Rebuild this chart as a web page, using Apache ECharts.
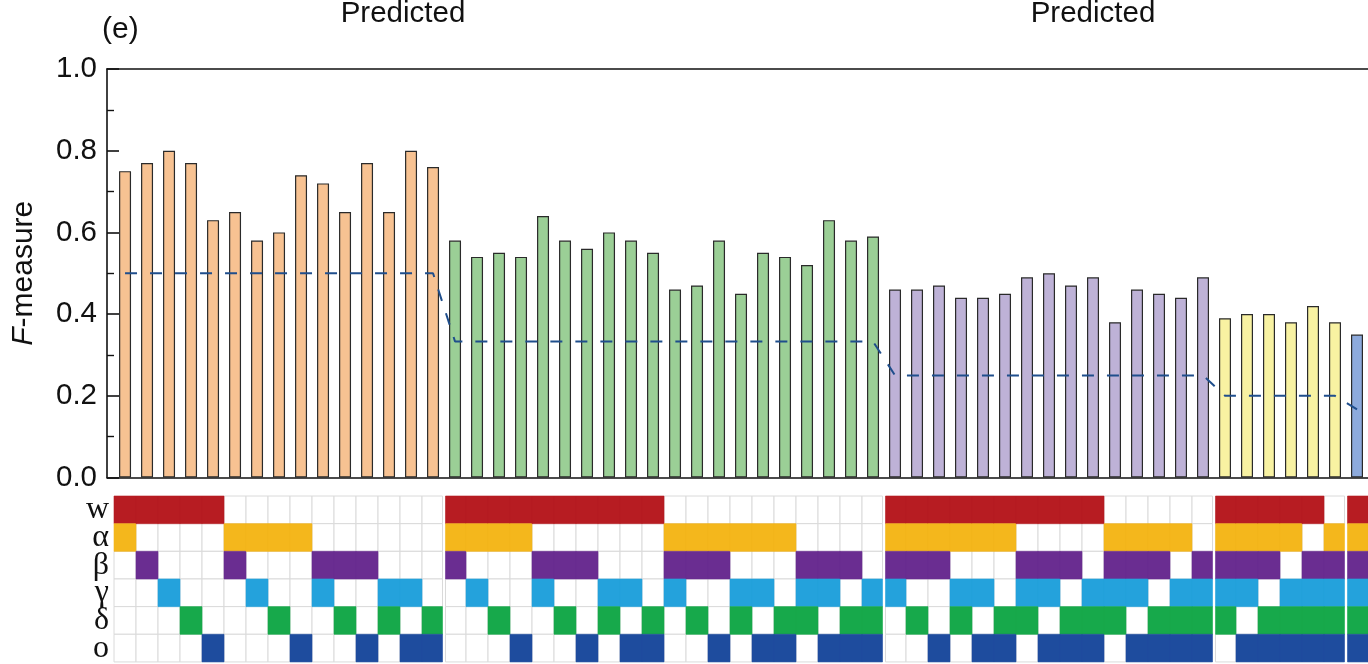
<!DOCTYPE html>
<html>
<head>
<meta charset="utf-8">
<title>F-measure by factor combination</title>
<script src="https://cdn.jsdelivr.net/npm/echarts@6/dist/echarts.min.js"></script>
<style>
  html, body { margin: 0; padding: 0; background: #ffffff; }
  #chart { width: 1368px; height: 664px; }
</style>
</head>
<body>
<div id="chart"></div>
<script>
// Factors shown as rows of the membership matrix (top to bottom)
const factors = ['w', 'α', 'β', 'γ', 'δ', 'o'];

// Factor combinations, one group per combination size
const pairs = ['wα', 'wβ', 'wγ', 'wδ', 'wo', 'αβ', 'αγ', 'αδ', 'αo', 'βγ', 'βδ', 'βo', 'γδ', 'γo', 'δo'];
const triples = ['wαβ', 'wαγ', 'wαδ', 'wαo', 'wβγ', 'wβδ', 'wβo', 'wγδ', 'wγo', 'wδo',
                 'αβγ', 'αβδ', 'αβo', 'αγδ', 'αγo', 'αδo', 'βγδ', 'βγo', 'βδo', 'γδo'];
const quads = ['wαβγ', 'wαβδ', 'wαβo', 'wαγδ', 'wαγo', 'wαδo', 'wβγδ', 'wβγo', 'wβδo', 'wγδo',
               'αβγδ', 'αβγo', 'αβδo', 'αγδo', 'βγδo'];
const quints = ['wαβγδ', 'wαβγo', 'wαβδo', 'wαγδo', 'wβγδo', 'αβγδo'];
const sextet = ['wαβγδo'];

// F-measure of each combination
const fPairs = [0.75, 0.77, 0.80, 0.77, 0.63, 0.65, 0.58, 0.60, 0.74, 0.72, 0.65, 0.77, 0.65, 0.80, 0.76];
const fTriples = [0.58, 0.54, 0.55, 0.54, 0.64, 0.58, 0.56, 0.60, 0.58, 0.55,
                  0.46, 0.47, 0.58, 0.45, 0.55, 0.54, 0.52, 0.63, 0.58, 0.59];
const fQuads = [0.46, 0.46, 0.47, 0.44, 0.44, 0.45, 0.49, 0.50, 0.47, 0.49, 0.38, 0.46, 0.45, 0.44, 0.49];
const fQuints = [0.39, 0.40, 0.40, 0.38, 0.42, 0.38];
const fSextet = [0.35];

// Chance level for each group (dashed line)
const chanceLevel = [0.5, 0.333, 0.25, 0.2, 0.167];

// Y axis ticks
const yTicks = [0.0, 0.2, 0.4, 0.6, 0.8, 1.0];

// Styling
const groupBarColors = ['#F7C292', '#9BCF96', '#BEB2D7', '#F8F2A2', '#8DAADC'];
const factorColors = ['#B71C22', '#F4B71C', '#6A2D91', '#24A2DC', '#17A94B', '#1E4C9E'];
const sansFont = '"Liberation Sans", Arial, sans-serif';
const serifFont = '"Liberation Serif", "Times New Roman", serif';
const textColor = '#111111';
const groupGapPx = 3;

const groups = [
  { combos: pairs, values: fPairs },
  { combos: triples, values: fTriples },
  { combos: quads, values: fQuads },
  { combos: quints, values: fQuints },
  { combos: sextet, values: fSextet }
];

// Flatten groups into columns
const columns = [];
groups.forEach((g, gi) => {
  g.combos.forEach((c, k) => {
    columns.push({
      combo: c,
      value: g.values[k],
      group: gi,
      first: k === 0,
      last: k === g.combos.length - 1
    });
  });
});
const nCols = columns.length;

const barData = columns.map((c, i) => ({
  value: [i, c.value],
  itemStyle: { color: groupBarColors[c.group] }
}));
const chanceData = columns.map((c, i) => [i, chanceLevel[c.group]]);

// Matrix cells: empty cells first, filled cells on top
const emptyCells = [];
const filledCells = [];
columns.forEach((c, i) => {
  const members = Array.from(c.combo);
  factors.forEach((f, r) => {
    if (members.includes(f)) filledCells.push([i, r, r]);
    else emptyCells.push([i, r, -1]);
  });
});
const matrixData = emptyCells.concat(filledCells);

function renderCell(params, api) {
  const col = api.value(0);
  const row = api.value(1);
  const colorIdx = api.value(2);
  const info = columns[col];
  const left = api.coord([col - 0.5, row]);
  const right = api.coord([col + 0.5, row]);
  const h = api.size([0, 1])[1];
  let x0 = left[0];
  let x1 = right[0];
  if (info.first && col > 0) x0 += groupGapPx / 2;
  if (info.last && col < nCols - 1) x1 -= groupGapPx / 2;
  const y0 = left[1] - h / 2;
  const filled = colorIdx >= 0;
  return {
    type: 'rect',
    shape: { x: x0, y: y0, width: x1 - x0, height: h },
    style: filled
      ? { fill: factorColors[colorIdx], stroke: factorColors[colorIdx], lineWidth: 0.6 }
      : { fill: '#ffffff', stroke: '#dadada', lineWidth: 1 }
  };
}

const chart = echarts.init(document.getElementById('chart'), null, { renderer: 'canvas' });

chart.setOption({
  animation: false,
  backgroundColor: '#ffffff',
  grid: [
    { left: 107, right: 0, top: 69, height: 408.5 },
    { left: 114, right: 0, top: 496, height: 167.4 }
  ],
  xAxis: [
    {
      type: 'value', gridIndex: 0, min: -0.82, max: nCols - 0.5,
      axisLine: { show: true, onZero: false, lineStyle: { color: '#111', width: 1.6 } },
      axisTick: { show: false }, axisLabel: { show: false }, splitLine: { show: false }
    },
    {
      type: 'value', gridIndex: 0, position: 'top', min: -0.82, max: nCols - 0.5,
      axisLine: { show: true, onZero: false, lineStyle: { color: '#111', width: 1.6 } },
      axisTick: { show: false }, axisLabel: { show: false }, splitLine: { show: false }
    },
    {
      type: 'value', gridIndex: 1, min: -0.5, max: nCols - 0.5,
      axisLine: { show: false }, axisTick: { show: false },
      axisLabel: { show: false }, splitLine: { show: false }
    }
  ],
  yAxis: [
    {
      type: 'value', gridIndex: 0, min: 0, max: 1, interval: 0.2,
      name: '{i|F}-measure',
      nameLocation: 'middle',
      nameRotate: 90,
      nameGap: 68,
      nameTextStyle: {
        fontFamily: sansFont, fontSize: 30, color: textColor,
        rich: { i: { fontFamily: sansFont, fontSize: 30, fontStyle: 'italic', color: textColor } }
      },
      axisLine: { show: true, onZero: false, lineStyle: { color: '#111', width: 1.6 } },
      axisTick: { show: true, inside: true, length: 12, lineStyle: { color: '#111', width: 1.6 } },
      minorTick: { show: true, splitNumber: 2, length: 7, lineStyle: { color: '#111', width: 1.4 } },
      splitLine: { show: false },
      axisLabel: {
        margin: 10, fontFamily: sansFont, fontSize: 29.5, color: textColor,
        formatter: v => {
          const t = yTicks.find(y => Math.abs(y - v) < 1e-6);
          return t === undefined ? '' : t.toFixed(1);
        }
      }
    },
    {
      type: 'category', gridIndex: 1, data: factors, inverse: true,
      axisLine: { show: false }, axisTick: { show: false }, splitLine: { show: false },
      axisLabel: { interval: 0, margin: 5, fontFamily: serifFont, fontSize: 32, color: textColor }
    }
  ],
  series: [
    {
      type: 'bar', xAxisIndex: 0, yAxisIndex: 0,
      barWidth: 12,
      data: barData,
      itemStyle: { borderColor: '#2a2a2a', borderWidth: 1.2 },
      z: 2
    },
    {
      type: 'line', xAxisIndex: 0, yAxisIndex: 0,
      data: chanceData,
      symbol: 'none',
      lineStyle: { color: '#1F4E8C', width: 2, type: [12, 13] },
      z: 3
    },
    {
      type: 'custom', xAxisIndex: 2, yAxisIndex: 1,
      renderItem: renderCell,
      encode: { x: 0, y: 1 },
      data: matrixData
    }
  ],
  graphic: [
    {
      type: 'text', x: 102, y: 30,
      style: { text: '(e)', font: '30px ' + sansFont, fill: textColor, textAlign: 'left', textVerticalAlign: 'middle' }
    },
    {
      type: 'text', x: 403, y: 14,
      style: { text: 'Predicted', font: '29.5px ' + sansFont, fill: textColor, textAlign: 'center', textVerticalAlign: 'middle' }
    },
    {
      type: 'text', x: 1093, y: 14,
      style: { text: 'Predicted', font: '29.5px ' + sansFont, fill: textColor, textAlign: 'center', textVerticalAlign: 'middle' }
    }
  ]
});
</script>
</body>
</html>
